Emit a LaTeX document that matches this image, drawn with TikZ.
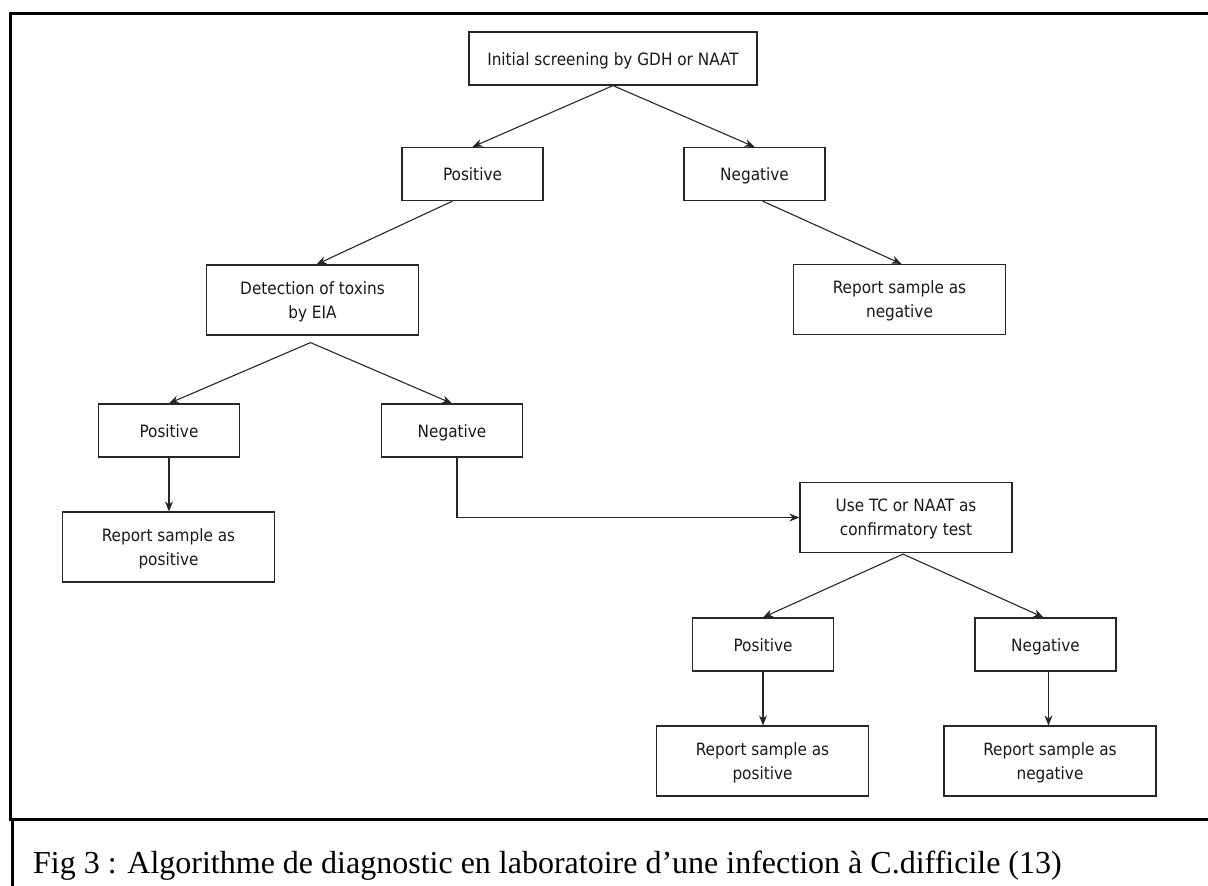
\documentclass[tikz,border=0pt]{standalone}
\usepackage{fontspec}
\setmainfont{DejaVu Sans Condensed}
\newfontfamily\capfont{Liberation Serif}
\usetikzlibrary{arrows.meta,calc}

\begin{document}
\begin{tikzpicture}[x=1pt,y=-1pt,
  box/.style={draw=black!85, line width=1.2pt, align=center, inner sep=0pt,
              font=\fontsize{17}{24}\selectfont, text=black!90},
  small/.style={box, minimum width=141pt, minimum height=53pt,
                text height=13.6pt, text depth=0pt},
  wide/.style={box, minimum width=212pt, minimum height=70pt, text depth=0pt},
  link/.style={draw=black!85, line width=1.1pt, -{Stealth[length=10pt,width=8pt]}},
  frameline/.style={line width=3pt, black}]

\useasboundingbox (0,0) rectangle (1208,886);

% outer frame and caption cell
\draw[frameline] (8.5,13) -- (1210,13);
\draw[frameline] (10,11.5) -- (10,819);
\draw[frameline] (8.5,819) -- (1210,819);
\draw[frameline] (12.5,819) -- (12.5,890);

% boxes
\node[box, minimum width=288pt, minimum height=53pt, text height=13.6pt, text depth=0pt]
  (init) at (613,58.5) {Initial screening by GDH or NAAT};
\node[small] (pos1) at (472.5,174) {Positive};
\node[small] (neg1) at (754.5,174) {Negative};
\node[wide] (det) at (312.5,300) {Detection of toxins\\by EIA};
\node[wide] (rneg1) at (899.5,299.5) {Report sample as\\negative};
\node[small] (pos2) at (169,430.5) {Positive};
\node[small] (neg2) at (452,430.5) {Negative};
\node[wide] (rpos1) at (168.5,547) {Report sample as\\positive};
\node[wide] (tc) at (906,517.5) {Use TC or NAAT as\\confirmatory test};
\node[small] (pos3) at (763,644.5) {Positive};
\node[small] (neg3) at (1045.5,644.5) {Negative};
\node[wide] (rpos2) at (762.5,761) {Report sample as\\positive};
\node[wide] (rneg2) at (1050,761) {Report sample as\\negative};

% fork and exit points
\coordinate (detfork) at ($(det.south)+(-2,7)$);
\coordinate (tcfork) at ($(tc.south)+(-3,1)$);
\coordinate (pos1out) at ($(pos1.south)+(-20,0)$);
\coordinate (neg1out) at ($(neg1.south)+(8,0)$);
\coordinate (neg2out) at ($(neg2.south)+(5,0)$);
\coordinate (neg3out) at ($(neg3.south)+(3,0)$);

% connectors
\draw[link] (init.south) -- (pos1.north);
\draw[link] (init.south) -- (neg1.north);
\draw[link] (pos1out) -- ($(det.north)+(4,0)$);
\draw[link] (neg1out) -- ($(rneg1.north)+(2,0)$);
\draw[link] (detfork) -- (pos2.north);
\draw[link] (detfork) -- (neg2.north);
\draw[link] (pos2.south) -- (pos2.south |- rpos1.north);
\draw[link] (neg2out) |- (tc.west);
\draw[link] (tcfork) -- (pos3.north);
\draw[link] (tcfork) -- ($(neg3.north)+(-2,0)$);
\draw[link] (pos3.south) -- (pos3.south |- rpos2.north);
\draw[link] (neg3out) -- (neg3out |- rneg2.north);

% caption
\node[anchor=base west, inner sep=0pt, font=\capfont\fontsize{32}{38}\selectfont] (cap) at (33,873)
  {Fig 3 : Algorithme de diagnostic en laboratoire d’une infection à C.difficile (13)};

\end{tikzpicture}
\end{document}
